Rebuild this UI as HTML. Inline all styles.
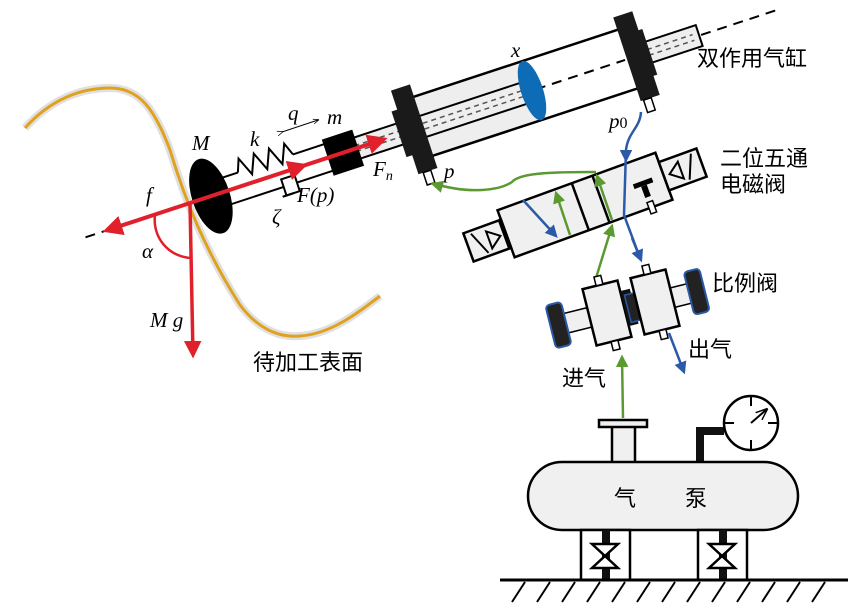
<!DOCTYPE html>
<html><head><meta charset="utf-8"><style>
html,body{margin:0;padding:0;background:#fff;}
svg{display:block;}
.m{font-family:"Liberation Serif",serif;font-style:italic;font-size:21px;}
.c{font-family:"Liberation Sans","Noto Sans CJK SC",sans-serif;font-size:22px;}
</style></head><body>
<svg width="849" height="606" viewBox="0 0 849 606" xmlns="http://www.w3.org/2000/svg">
<defs>
<marker id="ar" viewBox="0 0 10 10" refX="8" refY="5" markerWidth="5" markerHeight="5" orient="auto"><path d="M0,0 L10,5 L0,10 z" fill="#e0202a"/></marker>
<marker id="ag" viewBox="0 0 10 10" refX="8" refY="5" markerWidth="5" markerHeight="5" orient="auto"><path d="M0,0 L10,5 L0,10 z" fill="#5a9a30"/></marker>
<marker id="ab" viewBox="0 0 10 10" refX="8" refY="5" markerWidth="5" markerHeight="5" orient="auto"><path d="M0,0 L10,5 L0,10 z" fill="#2b5aa8"/></marker>
<marker id="ak" viewBox="0 0 10 10" refX="8" refY="5" markerWidth="6" markerHeight="6" orient="auto"><path d="M0,1 L10,5 L0,9" fill="none" stroke="#000" stroke-width="1.2"/></marker>
</defs>

<path d="M25,128 C50,100 80,88 110,88 C140,88 155,110 170,150 C185,200 205,250 240,305 C255,325 275,338 300,336 C330,334 355,315 380,296" fill="none" stroke="#ccc" stroke-width="8" opacity="0.6"/>
<path d="M25,128 C50,100 80,88 110,88 C140,88 155,110 170,150 C185,200 205,250 240,305 C255,325 275,338 300,336 C330,334 355,315 380,296" fill="none" stroke="#e0a21e" stroke-width="3"/>

<g transform="translate(190,203) rotate(-18.2)">
  <line x1="-110" y1="0" x2="-90" y2="0" stroke="#000" stroke-width="2" stroke-dasharray="10,7"/>
  <line x1="20" y1="-14" x2="55" y2="-14" stroke="#000" stroke-width="2"/>
  <polyline points="55,-14 60,-27 68,-8 76,-27 84,-8 92,-27 100,-8 108,-27 113,-14" fill="none" stroke="#000" stroke-width="2"/>
  <line x1="113" y1="-14" x2="150" y2="-14" stroke="#000" stroke-width="2"/>
  <line x1="20" y1="14" x2="150" y2="14" stroke="#000" stroke-width="2"/>
  <rect x="94" y="6" width="14" height="17" fill="#fff" stroke="#000" stroke-width="2"/>
  <line x1="90" y1="23" x2="102" y2="23" stroke="#000" stroke-width="2"/>
  <ellipse cx="22" cy="0" rx="19" ry="39" fill="#000"/>
  <rect x="160" y="-11" width="75" height="22" fill="#eee" stroke="#000" stroke-width="2"/>
  <line x1="165" y1="-3" x2="230" y2="-3" stroke="#555" stroke-width="1.5" stroke-dasharray="5,4"/>
  <line x1="165" y1="3" x2="230" y2="3" stroke="#555" stroke-width="1.5" stroke-dasharray="5,4"/>
  <rect x="145" y="-19" width="32" height="38" fill="#000"/>
  <rect x="242" y="-31" width="225" height="62" fill="#fff"/>
  <rect x="242" y="-31" width="122" height="62" fill="#eee"/>
  <line x1="242" y1="-31" x2="467" y2="-31" stroke="#000" stroke-width="2.5"/>
  <line x1="242" y1="31" x2="467" y2="31" stroke="#000" stroke-width="2.5"/>
  <rect x="242" y="-11" width="122" height="22" fill="#eee" stroke="#000" stroke-width="2"/>
  <line x1="246" y1="-3" x2="360" y2="-3" stroke="#555" stroke-width="1.5" stroke-dasharray="5,4"/>
  <line x1="246" y1="3" x2="360" y2="3" stroke="#555" stroke-width="1.5" stroke-dasharray="5,4"/>
  <line x1="364" y1="0" x2="458" y2="0" stroke="#000" stroke-width="2" stroke-dasharray="10,7"/>
  <ellipse cx="360" cy="0" rx="11" ry="31" fill="#0e6bb5"/>
  <rect x="226" y="-44" width="20" height="88" fill="#1a1a1a"/>
  <rect x="220" y="-24" width="8" height="48" fill="#1a1a1a"/>
  <rect x="231" y="44" width="8" height="13" fill="#fff" stroke="#000" stroke-width="1.5"/>
  <rect x="478" y="-11" width="58" height="22" fill="#eee" stroke="#000" stroke-width="2"/>
  <line x1="482" y1="-3" x2="530" y2="-3" stroke="#555" stroke-width="1.5" stroke-dasharray="5,4"/>
  <line x1="482" y1="3" x2="530" y2="3" stroke="#555" stroke-width="1.5" stroke-dasharray="5,4"/>
  <line x1="538" y1="0" x2="620" y2="0" stroke="#000" stroke-width="2" stroke-dasharray="10,7"/>
  <rect x="460" y="-44" width="20" height="88" fill="#1a1a1a"/>
  <rect x="476" y="-24" width="8" height="48" fill="#1a1a1a"/>
  <rect x="463" y="44" width="8" height="13" fill="#fff" stroke="#000" stroke-width="1.5"/>
  <line x1="0" y1="0" x2="204" y2="0" stroke="#e0202a" stroke-width="4" marker-end="url(#ar)"/>
  <line x1="0" y1="0" x2="-88" y2="0" stroke="#e0202a" stroke-width="4" marker-end="url(#ar)"/>
  <line x1="115" y1="0" x2="120" y2="0" stroke="#e0202a" stroke-width="4" marker-end="url(#ar)"/>
</g>
<line x1="282" y1="132" x2="318" y2="120" stroke="#000" stroke-width="1" marker-end="url(#ak)" marker-start="url(#ak)"/>
<line x1="190" y1="203" x2="193" y2="355" stroke="#e0202a" stroke-width="3.5" marker-end="url(#ar)"/>
<path d="M155,215 A38,38 0 0 0 191,258" fill="none" stroke="#e0202a" stroke-width="2.5"/>

<text class="m" x="192" y="150">M</text>
<text class="m" x="250" y="146">k</text>
<text class="m" x="288" y="120">q</text>
<text class="m" x="327" y="124">m</text>
<text class="m" x="373" y="176">F<tspan font-size="14" dy="4">n</tspan></text>
<text class="m" x="297" y="202" font-style="normal"><tspan font-style="italic">F</tspan>(<tspan font-style="italic">p</tspan>)</text>
<text class="m" x="272" y="224">ζ</text>
<text class="m" x="146" y="202">f</text>
<text class="m" x="142" y="258">α</text>
<text class="m" x="150" y="327">M g</text>
<text class="m" x="511" y="57">x</text>
<text class="m" x="444" y="178">p</text>
<text class="m" x="609" y="128">p<tspan font-style="normal" font-size="16">0</tspan></text>
<text class="c" x="253" y="370" font-size="23">待加工表面</text>
<text class="c" x="697" y="66" font-size="23">双作用气缸</text>
<text class="c" x="720" y="166">二位五通</text>
<text class="c" x="720" y="192">电磁阀</text>
<text class="c" x="712" y="291">比例阀</text>
<text class="c" x="688" y="357">出气</text>
<text class="c" x="562" y="386">进气</text>

<g transform="translate(585,205) rotate(-20)">
  <rect x="-84" y="-25" width="168" height="50" fill="#f0f0f0" stroke="#000" stroke-width="2.5"/>
  <line x1="-5" y1="-25" x2="-5" y2="25" stroke="#000" stroke-width="2.5"/>
  <line x1="17" y1="-25" x2="17" y2="25" stroke="#000" stroke-width="2.5"/>
  <rect x="-124" y="-15" width="40" height="30" fill="#f0f0f0" stroke="#000" stroke-width="2.5"/>
  <line x1="-86" y1="-15" x2="-86" y2="15" stroke="#000" stroke-width="2.5"/>
  <line x1="-117" y1="-12" x2="-107" y2="12" stroke="#000" stroke-width="2"/>
  <path d="M-102,-9 L-90,0 L-102,9 z" fill="none" stroke="#000" stroke-width="2"/>
  <rect x="84" y="-15" width="40" height="30" fill="#f0f0f0" stroke="#000" stroke-width="2.5"/>
  <line x1="117" y1="-12" x2="107" y2="12" stroke="#000" stroke-width="2"/>
  <path d="M102,-9 L90,0 L102,9 z" fill="none" stroke="#000" stroke-width="2"/>
  <rect x="52" y="-3" width="20" height="5" fill="#000"/>
  <rect x="59" y="2" width="6" height="12" fill="#000"/>
  <rect x="59" y="19" width="6" height="12" fill="#fff" stroke="#000" stroke-width="1.5"/>
</g>
<path d="M432,183 C470,195 500,190 512,182 C520,172 560,172 596,172" fill="none" stroke="#5a9a30" stroke-width="2.5"/>
<path d="M440,186 L433,184" stroke="#5a9a30" stroke-width="2.5" marker-end="url(#ag)"/>
<line x1="612" y1="220" x2="597" y2="176" stroke="#5a9a30" stroke-width="2.5" marker-end="url(#ag)"/>
<line x1="570" y1="235" x2="556" y2="193" stroke="#5a9a30" stroke-width="2.5" marker-end="url(#ag)"/>
<line x1="596" y1="278" x2="612" y2="226" stroke="#5a9a30" stroke-width="2.5" marker-end="url(#ag)"/>
<line x1="523" y1="200" x2="556" y2="236" stroke="#2b5aa8" stroke-width="2.5" marker-end="url(#ab)"/>
<path d="M641,112 C640,128 628,132 626,150 L624,215 L640,258" fill="none" stroke="#2b5aa8" stroke-width="2.5"/>
<line x1="626" y1="150" x2="626" y2="160" stroke="#2b5aa8" stroke-width="2.5" marker-end="url(#ab)"/>
<line x1="632" y1="238" x2="641" y2="260" stroke="#2b5aa8" stroke-width="2.5" marker-end="url(#ab)"/>
<line x1="669" y1="333" x2="684" y2="372" stroke="#2b5aa8" stroke-width="2.5" marker-end="url(#ab)"/>
<line x1="623" y1="418" x2="622" y2="357" stroke="#5a9a30" stroke-width="2.5" marker-end="url(#ag)"/>

<g transform="translate(607,313) rotate(-14)">
  <rect x="-45" y="-10" width="30" height="20" fill="#f0f0f0" stroke="#000" stroke-width="1.5"/>
  <rect x="-58" y="-22" width="16" height="44" rx="4" fill="#222" stroke="#2b5aa8" stroke-width="2"/>
  <rect x="-18" y="-29" width="36" height="58" fill="#f0f0f0" stroke="#000" stroke-width="2.5"/>
  <rect x="-4" y="-38" width="7" height="9" fill="#fff" stroke="#000" stroke-width="1.5"/>
  <rect x="-3" y="29" width="7" height="9" fill="#fff" stroke="#000" stroke-width="1.5"/>
  <rect x="18" y="-18" width="10" height="36" fill="#111"/>
</g>
<g transform="translate(655,302) rotate(-14)">
  <rect x="15" y="-10" width="30" height="20" fill="#f0f0f0" stroke="#000" stroke-width="1.5"/>
  <rect x="35" y="-22" width="16" height="44" rx="4" fill="#222" stroke="#2b5aa8" stroke-width="2"/>
  <rect x="-28" y="-14" width="14" height="28" fill="#222" stroke="#2b5aa8" stroke-width="1.5"/>
  <rect x="-18" y="-29" width="36" height="58" fill="#f0f0f0" stroke="#000" stroke-width="2.5"/>
  <rect x="-4" y="-38" width="7" height="9" fill="#fff" stroke="#000" stroke-width="1.5"/>
  <rect x="-3" y="29" width="7" height="9" fill="#fff" stroke="#000" stroke-width="1.5"/>
</g>

<rect x="612" y="426" width="23" height="37" fill="#f0f0f0" stroke="#000" stroke-width="2.5"/>
<rect x="599" y="420" width="48" height="7" fill="#f0f0f0" stroke="#000" stroke-width="2.5"/>
<path d="M700,462 L700,431 L724,431" fill="none" stroke="#111" stroke-width="8"/>
<circle cx="751" cy="423" r="27" fill="#fff" stroke="#000" stroke-width="2.5"/>
<g stroke="#000" stroke-width="2">
<line x1="751" y1="396" x2="751" y2="406"/><line x1="751" y1="440" x2="751" y2="450"/>
<line x1="724" y1="423" x2="734" y2="423"/><line x1="768" y1="423" x2="778" y2="423"/>
<line x1="751" y1="423" x2="766" y2="410" marker-end="url(#ak)"/>
</g>
<rect x="528" y="462" width="270" height="68" rx="34" ry="34" fill="#f0f0f0" stroke="#000" stroke-width="2.5"/>
<text class="c" x="614" y="506" font-size="21">气</text>
<text class="c" x="685" y="506" font-size="21">泵</text>
<g stroke="#000" stroke-width="2.5" fill="#fff">
<rect x="581" y="530" width="49" height="50"/><rect x="698" y="530" width="49" height="50"/>
</g>
<rect x="602" y="530" width="8" height="50" fill="#111"/>
<rect x="719" y="530" width="8" height="50" fill="#111"/>
<path d="M592,544 L618,544 L592,568 L618,568 z" fill="#fff" stroke="#000" stroke-width="2.5"/>
<path d="M709,544 L735,544 L709,568 L735,568 z" fill="#fff" stroke="#000" stroke-width="2.5"/>
<line x1="500" y1="580" x2="848" y2="580" stroke="#000" stroke-width="3"/>
<g stroke="#000" stroke-width="2">
<line x1="525" y1="582" x2="512" y2="602"/><line x1="550" y1="582" x2="537" y2="602"/><line x1="575" y1="582" x2="562" y2="602"/>
<line x1="600" y1="582" x2="587" y2="602"/><line x1="625" y1="582" x2="612" y2="602"/><line x1="650" y1="582" x2="637" y2="602"/>
<line x1="675" y1="582" x2="662" y2="602"/><line x1="700" y1="582" x2="687" y2="602"/><line x1="725" y1="582" x2="712" y2="602"/>
<line x1="750" y1="582" x2="737" y2="602"/><line x1="775" y1="582" x2="762" y2="602"/><line x1="800" y1="582" x2="787" y2="602"/>
<line x1="825" y1="582" x2="812" y2="602"/>
</g>
</svg>
</body></html>
